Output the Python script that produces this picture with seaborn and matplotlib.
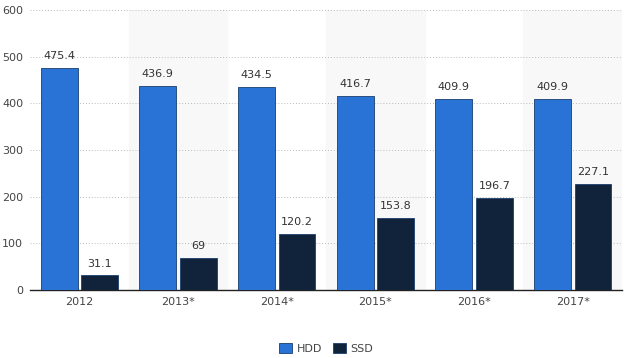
import pandas as pd
import seaborn as sns
import matplotlib.pyplot as plt

years = ['2012', '2013*', '2014*', '2015*', '2016*', '2017*']
hdd = [475.4, 436.9, 434.5, 416.7, 409.9, 409.9]
ssd = [31.1, 69, 120.2, 153.8, 196.7, 227.1]
hdd_labels = ['475.4', '436.9', '434.5', '416.7', '409.9', '409.9']
ssd_labels = ['31.1', '69', '120.2', '153.8', '196.7', '227.1']

df = pd.DataFrame({'year': years * 2,
                   'value': hdd + ssd,
                   'type': ['HDD'] * 6 + ['SSD'] * 6})

sns.set_style('white')
plt.rcParams['font.family'] = ['DejaVu Sans']

fig, ax = plt.subplots(figsize=(6.4, 3.58), dpi=100)
fig.subplots_adjust(left=0.047, right=0.972, top=0.972, bottom=0.19)

# alternating shaded columns
for i in range(len(years)):
    if i % 2 == 1:
        ax.axvspan(i - 0.5, i + 0.5, color='#f8f8f8', zorder=0)

sns.barplot(data=df, x='year', y='value', hue='type', ax=ax,
            palette={'HDD': '#2a73d6', 'SSD': '#10233b'},
            width=0.82, gap=0.09, edgecolor='#1a3f6e', linewidth=0.6,
            saturation=1, zorder=3)

for cont, labs in zip(ax.containers, [hdd_labels, ssd_labels]):
    ax.bar_label(cont, labels=labs, padding=5, fontsize=8, color='#333333')

ax.set_xlim(-0.5, 5.5)
ax.set_ylim(0, 600)
ax.set_yticks(range(0, 601, 100))
ax.yaxis.grid(True, linestyle=(0, (1, 2)), color='#bbbbbb', linewidth=0.7, zorder=1)
ax.set_axisbelow(True)
ax.set_xlabel('')
ax.set_ylabel('')
ax.tick_params(axis='both', labelsize=8, colors='#444444', length=0, pad=5)
for s in ['top', 'right', 'left']:
    ax.spines[s].set_visible(False)
ax.spines['bottom'].set_color('#222222')
ax.spines['bottom'].set_linewidth(1)

ax.legend(loc='upper center', bbox_to_anchor=(0.5, -0.155), ncol=2, frameon=False,
          fontsize=8, handlelength=1.2, handleheight=0.9, columnspacing=1.0,
          handletextpad=0.4, labelcolor='#444444')

fig.savefig('out.png', dpi=100)
